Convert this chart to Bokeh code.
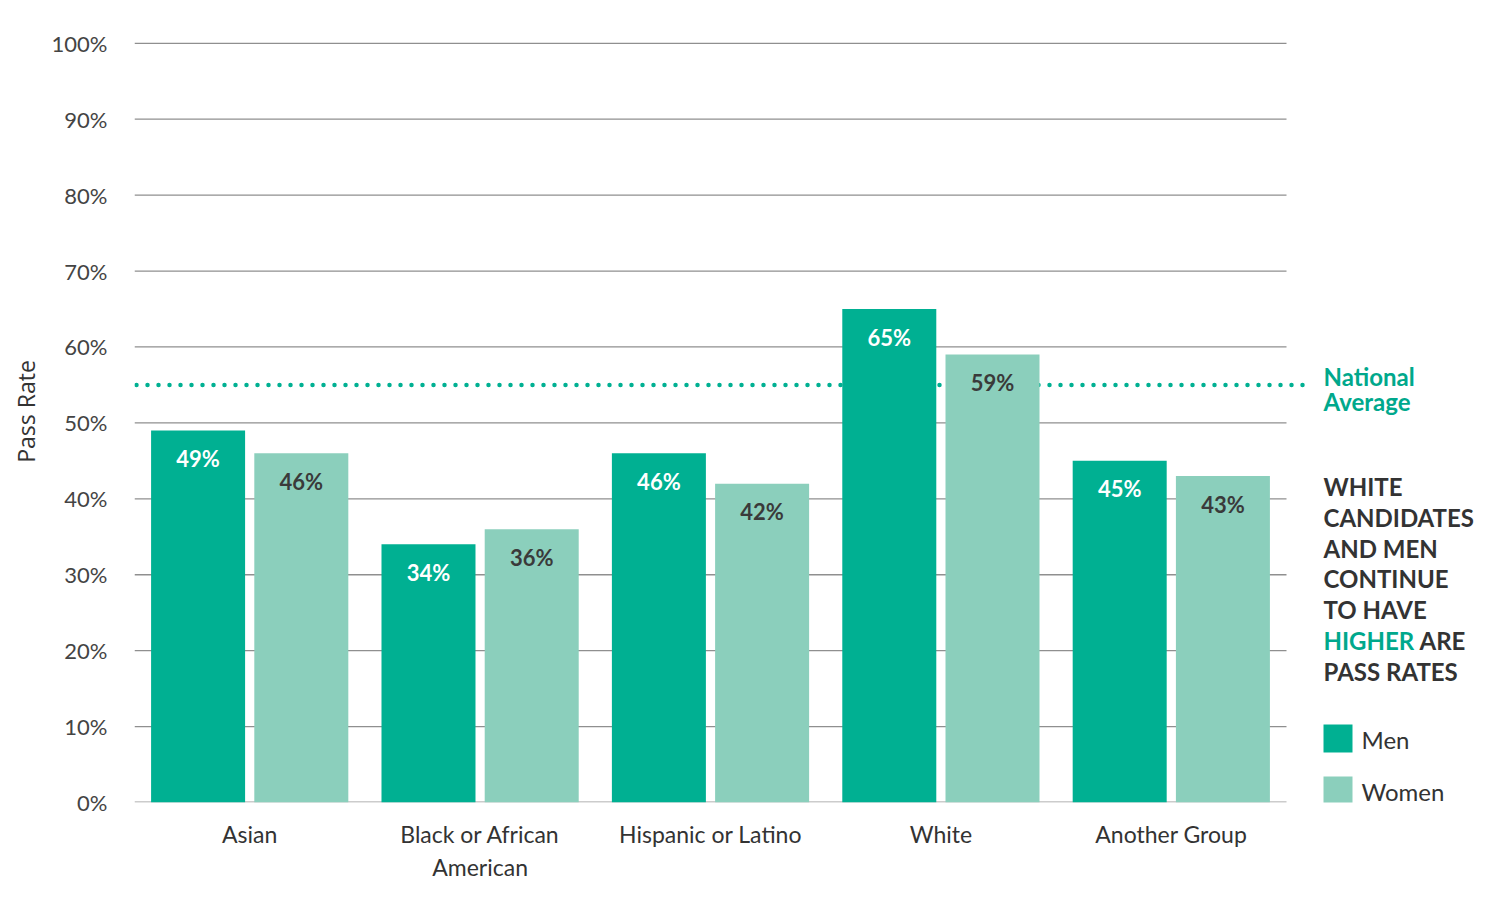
from bokeh.plotting import figure
from bokeh.models import Range1d, FixedTicker
from bokeh.core.properties import value
from bokeh.embed import file_html
from bokeh.resources import INLINE

# ---- data ----
groups = ["Asian", "Black or African\nAmerican", "Hispanic or Latino", "White", "Another Group"]
men = [49, 34, 46, 65, 45]
women = [46, 36, 42, 59, 43]
national_average = 55
y_ticks = [0, 10, 20, 30, 40, 50, 60, 70, 80, 90, 100]
y_tick_labels = ["0%", "10%", "20%", "30%", "40%", "50%", "60%", "70%", "80%", "90%", "100%"]
note_lines = ["WHITE", "CANDIDATES", "AND MEN", "CONTINUE", "TO HAVE"]
note_highlight = "HIGHER"
note_after_highlight = "ARE"
note_last = "PASS RATES"
series_names = ["Men", "Women"]

# ---- style ----
MEN_C = "#00B092"
WOMEN_C = "#8BCFBC"
TEAL_TXT = "#00A88C"
DARK = "#333333"
FONT = "Lato"

W, H = 1500, 909
LEFT, TOP, BOTTOM = 134, 20, 107
YMAX = 103.0
n = len(groups)
px_per_group = 230.4
XMAX = (W - LEFT) / px_per_group
ppu_y = (H - TOP - BOTTOM) / YMAX


def sx(px):  # screen x pixel -> data x
    return (px - LEFT) / px_per_group


def sy(py):  # screen y pixel -> data y
    return (H - BOTTOM - py) / ppu_y


p = figure(width=W, height=H, output_backend="svg", toolbar_location=None,
           x_range=Range1d(0, XMAX), y_range=Range1d(0, YMAX),
           min_border_left=LEFT, min_border_right=0, min_border_top=TOP,
           min_border_bottom=BOTTOM)
p.outline_line_color = None
p.xgrid.visible = False
p.ygrid.visible = False
p.background_fill_color = "white"
p.border_fill_color = "white"

# gridlines
grid_y = [t for t in y_ticks if t > 0]
p.segment(x0=[0] * len(grid_y), x1=[n] * len(grid_y), y0=grid_y, y1=grid_y,
          line_color="#8f8f8f", line_width=1.3)
p.segment(x0=[0], x1=[n], y0=[0], y1=[0], line_color="#cccccc", line_width=3)

# national average dotted line
p.line(x=[sx(136), sx(1313)], y=[national_average, national_average],
       line_color=MEN_C, line_width=4.5, line_dash="0 11", line_cap="round")

# bars
centers = [i + 0.5 for i in range(n)]
off = 0.224
bw = 0.408
men_x = [c - off for c in centers]
women_x = [c + off for c in centers]
p.vbar(x=men_x, top=men, width=bw, bottom=0, fill_color=MEN_C, line_color=None)
p.vbar(x=women_x, top=women, width=bw, bottom=0, fill_color=WOMEN_C, line_color=None)

# bar labels
p.text(x=men_x, y=men, text=[f"{v}%" for v in men], text_color="white",
       text_font=value(FONT), text_font_style="bold", text_font_size="22px",
       text_align="center", text_baseline="middle", y_offset=28)
p.text(x=women_x, y=women, text=[f"{v}%" for v in women], text_color="#3a3a3a",
       text_font=value(FONT), text_font_style="bold", text_font_size="22px",
       text_align="center", text_baseline="middle", y_offset=28)

# right side annotations
ax = sx(1323)
p.text(x=[ax, ax], y=[sy(376), sy(401)], text=["National", "Average"],
       text_color=TEAL_TXT, text_font=value(FONT), text_font_style="bold",
       text_font_size="24px", text_baseline="middle")

line_py = [486, 517, 548, 578, 609]
p.text(x=[ax] * len(note_lines), y=[sy(v) for v in line_py], text=note_lines,
       text_color=DARK, text_font=value(FONT), text_font_style="bold",
       text_font_size="24px", text_baseline="middle")
p.text(x=[ax], y=[sy(640)], text=[note_highlight], text_color=TEAL_TXT,
       text_font=value(FONT), text_font_style="bold", text_font_size="24px",
       text_baseline="middle")
p.text(x=[sx(1419)], y=[sy(640)], text=[note_after_highlight], text_color=DARK,
       text_font=value(FONT), text_font_style="bold", text_font_size="24px",
       text_baseline="middle")
p.text(x=[ax], y=[sy(671)], text=[note_last], text_color=DARK,
       text_font=value(FONT), text_font_style="bold", text_font_size="24px",
       text_baseline="middle")

# legend
p.quad(left=[sx(1323), sx(1323)], right=[sx(1352), sx(1352)],
       top=[sy(724), sy(776)], bottom=[sy(752), sy(804)],
       fill_color=[MEN_C, WOMEN_C], line_color=None)
p.text(x=[sx(1361), sx(1361)], y=[sy(739), sy(791)], text=series_names,
       text_color=DARK, text_font=value(FONT), text_font_size="24px",
       text_baseline="middle")

# axes
p.yaxis.ticker = FixedTicker(ticks=y_ticks)
p.yaxis.major_label_overrides = {t: l for t, l in zip(y_ticks, y_tick_labels)}
p.yaxis.axis_line_color = None
p.yaxis.major_tick_line_color = None
p.yaxis.minor_tick_line_color = None
p.yaxis.major_label_standoff = 21
p.yaxis.major_label_text_font = FONT
p.yaxis.major_label_text_font_size = "22px"
p.yaxis.major_label_text_color = "#444444"
p.yaxis.axis_label = "Pass Rate"
p.yaxis.axis_label_text_font = "Open Sans"
p.yaxis.axis_label_text_font_style = "normal"
p.yaxis.axis_label_text_font_size = "23px"
p.yaxis.axis_label_text_color = DARK
p.yaxis.axis_label_standoff = 7

p.xaxis.ticker = FixedTicker(ticks=centers)
p.xaxis.major_label_overrides = {c: g for c, g in zip(centers, groups)}
p.xaxis.axis_line_color = None
p.xaxis.major_tick_line_color = None
p.xaxis.minor_tick_line_color = None
p.xaxis.major_label_standoff = 11
p.xaxis.major_label_text_font = FONT
p.xaxis.major_label_text_font_size = "23px"
p.xaxis.major_label_text_color = DARK

open("out.html", "w").write(file_html(p, INLINE))
